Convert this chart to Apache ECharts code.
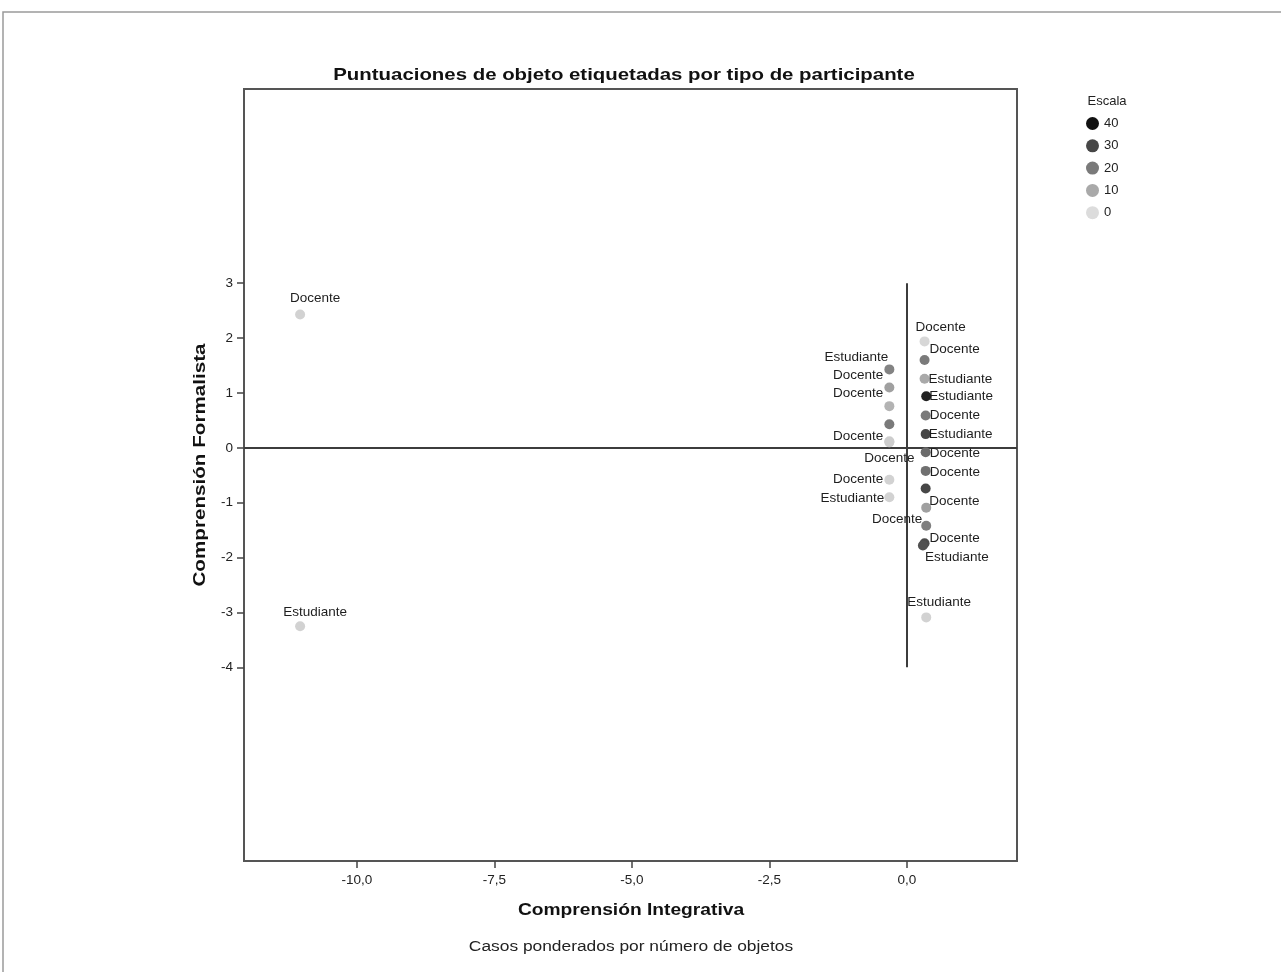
<!DOCTYPE html>
<html>
<head>
<meta charset="utf-8">
<script src="https://cdn.jsdelivr.net/npm/echarts@6/dist/echarts.min.js"></script>
<style>
  html, body { margin: 0; padding: 0; background: #ffffff; }
  #chart { width: 1281px; height: 972px; }
</style>
</head>
<body>
<div id="chart"></div>
<script>
// ---- Data ----
const roles = [
  'Docente', 'Docente', 'Estudiante', 'Estudiante', 'Docente', 'Estudiante', 'Docente',
  'Docente', 'Estudiante', 'Docente', 'Docente', 'Docente', 'Estudiante', 'Estudiante',
  'Estudiante', 'Docente', 'Docente', 'Docente', 'Docente', 'Docente', 'Docente', 'Estudiante',
  'Docente', 'Estudiante'
];
const integrativa = [
  0.32, 0.32, 0.32, 0.35, 0.34, 0.34, 0.34,
  0.34, 0.34, 0.35, 0.35, 0.32, 0.29, 0.35,
  -0.32, -0.32, -0.32, -0.32, -0.32, -0.32, -0.32, -0.32,
  -11.03, -11.03
];
const formalista = [
  1.94, 1.60, 1.26, 0.94, 0.59, 0.25, -0.08,
  -0.42, -0.74, -1.09, -1.42, -1.74, -1.78, -3.09,
  1.43, 1.10, 0.76, 0.43, 0.12, 0.10, -0.58, -0.90,
  2.43, -3.25
];
const escala = [
  1, 20, 10, 37, 20, 30, 23,
  22, 30, 12, 19, 29, 28, 2,
  18, 12, 8, 20, 3, 3, 2, 2,
  2, 2
];
const xTicks = [-10, -7.5, -5, -2.5, 0];
const yTicks = [-4, -3, -2, -1, 0, 1, 2, 3];
const legendValues = [40, 30, 20, 10, 0];

// ---- Layout (label placement relative to each point: [dx, dy, align]) ----
const labelLayout = [
  [16, -14, 'center'], [5, -11, 'left'], [4, 1, 'left'], [3, 0, 'left'], [4, 0, 'left'], [3, 0, 'left'], [4, 1, 'left'],
  [4, 1, 'left'], null, [3, -6, 'left'], [-4, -6, 'right'], [5, -5, 'left'], [2, 12, 'left'], [13, -15, 'center'],
  [-1, -12, 'right'], [-6, -12, 'right'], [-6, -13, 'right'], null, [-6, -5, 'right'], [0, 16, 'center'], [-6, 0, 'right'], [-5, 1, 'right'],
  [15, -16, 'center'], [15, -14, 'center']
];

const FONT = "'Liberation Sans', Arial, sans-serif";
const grays = ['#dcdcdc', '#a9a9a9', '#7a7a7a', '#474747', '#111111'];
const legendColor = { 40: '#111111', 30: '#474747', 20: '#7a7a7a', 10: '#a9a9a9', 0: '#dcdcdc' };
const SYM = 10;

const points = roles.map((r, i) => {
  const item = { name: r, value: [integrativa[i], formalista[i], escala[i]] };
  const L = labelLayout[i];
  if (L) {
    item.label = {
      show: true,
      position: [SYM / 2 + L[0], SYM / 2 + L[1]],
      align: L[2],
      verticalAlign: 'middle'
    };
  } else {
    item.label = { show: false };
  }
  return item;
});

const fmtX = v => (Math.round(v * 10) / 10).toFixed(1).replace('.', ',');

const chart = echarts.init(document.getElementById('chart'), null, { renderer: 'canvas' });

const series = [{
  type: 'scatter',
  name: 'puntos',
  symbol: 'circle',
  symbolSize: SYM,
  data: points,
  z: 3,
  itemStyle: { opacity: 1 },
  label: {
    show: true,
    formatter: p => p.name,
    color: '#1e1e1e',
    fontSize: 13.5,
    fontFamily: FONT
  },
  emphasis: { disabled: true },
  markLine: {
    silent: true,
    symbol: 'none',
    z: 2,
    label: { show: false },
    lineStyle: { color: '#3c3c3c', width: 2, type: 'solid', opacity: 1 },
    data: [
      { yAxis: 0 },
      [{ coord: [0, yTicks[yTicks.length - 1]] }, { coord: [0, yTicks[0]] }]
    ]
  }
}];
legendValues.forEach(v => {
  series.push({
    type: 'scatter',
    name: String(v),
    data: [],
    itemStyle: { color: legendColor[v], opacity: 1 }
  });
});

chart.setOption({
  animation: false,
  backgroundColor: '#ffffff',
  graphic: [
    { type: 'rect', shape: { x: 3, y: 12, width: 1300, height: 1000 }, style: { fill: 'none', stroke: '#9a9a9a', lineWidth: 1.5 }, silent: true, z: -10 },
    { type: 'text', x: 624, y: 75, style: { text: 'Puntuaciones de objeto etiquetadas por tipo de participante', font: 'bold 17px ' + FONT, fill: '#111', align: 'center', verticalAlign: 'middle' }, scaleX: 1.2 },
    { type: 'text', x: 631, y: 911, style: { text: 'Comprensión Integrativa', font: 'bold 16px ' + FONT, fill: '#111', align: 'center', verticalAlign: 'middle' }, scaleX: 1.2 },
    { type: 'text', x: 631, y: 947, style: { text: 'Casos ponderados por número de objetos', font: '14px ' + FONT, fill: '#222', align: 'center', verticalAlign: 'middle' }, scaleX: 1.24 },
    { type: 'text', x: 201, y: 465, rotation: Math.PI / 2, style: { text: 'Comprensión Formalista', font: 'bold 16px ' + FONT, fill: '#111', align: 'center', verticalAlign: 'middle' }, scaleX: 1.29 },
    { type: 'text', x: 1107, y: 101, style: { text: 'Escala', font: '13px ' + FONT, fill: '#222', align: 'center', verticalAlign: 'middle' } }
  ],
  legend: {
    orient: 'vertical',
    left: 1086,
    top: 117,
    padding: 0,
    itemWidth: 13,
    itemHeight: 13,
    itemGap: 9.3,
    icon: 'circle',
    selectedMode: false,
    data: legendValues.map(String),
    textStyle: { fontFamily: FONT, fontSize: 13, color: '#222' }
  },
  visualMap: {
    show: false,
    type: 'continuous',
    seriesIndex: 0,
    dimension: 2,
    min: 0,
    max: 40,
    inRange: { color: grays, opacity: 1 }
  },
  grid: {
    left: 244,
    top: 89,
    width: 773,
    height: 772,
    show: true,
    borderColor: '#555555',
    borderWidth: 2,
    backgroundColor: 'transparent',
    containLabel: false,
    outerBoundsMode: 'none'
  },
  xAxis: {
    type: 'value',
    min: -12.05,
    max: 2.0,
    position: 'bottom',
    axisLine: { show: false, onZero: false },
    splitLine: { show: false },
    axisTick: { show: true, customValues: xTicks, length: 7, lineStyle: { color: '#444', width: 1.5 } },
    axisLabel: { customValues: xTicks, formatter: fmtX, margin: 12, fontSize: 13.5, fontFamily: FONT, color: '#222' }
  },
  yAxis: {
    type: 'value',
    min: -7.53,
    max: 6.54,
    position: 'left',
    axisLine: { show: false, onZero: false },
    splitLine: { show: false },
    axisTick: { show: true, customValues: yTicks, length: 7, lineStyle: { color: '#444', width: 1.5 } },
    axisLabel: { customValues: yTicks, formatter: v => String(Math.round(v)), margin: 11, fontSize: 13.5, fontFamily: FONT, color: '#222' }
  },
  series: series
});
</script>
</body>
</html>
